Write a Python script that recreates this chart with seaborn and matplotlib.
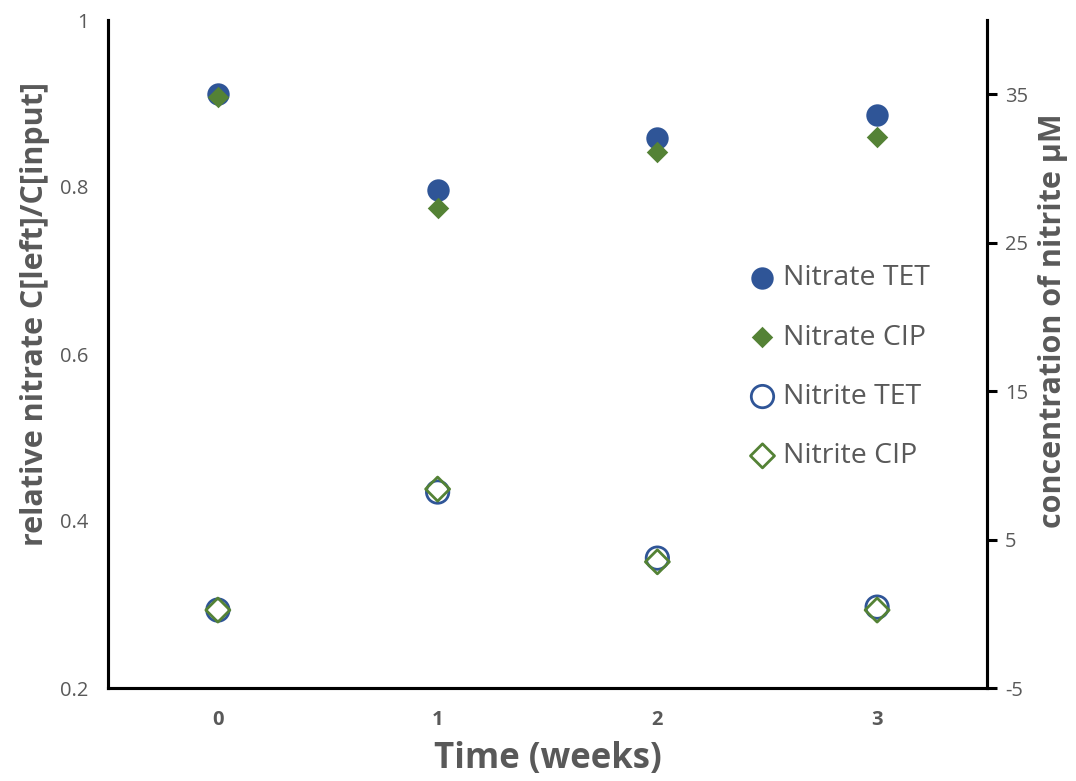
import numpy as np
import pandas as pd
import matplotlib
matplotlib.use("Agg")
import matplotlib.pyplot as plt
import seaborn as sns

sns.set_style("white")
plt.rcParams['font.family'] = ['Open Sans', 'DejaVu Sans']

weeks = [0, 1, 2, 3]
nitrate_tet = [0.911, 0.796, 0.859, 0.886]
nitrate_cip = [0.908, 0.775, 0.842, 0.860]
nitrite_tet = [0.25, 8.2, 3.75, 0.45]
nitrite_cip = [0.25, 8.4, 3.5, 0.25]

blue = '#2F5597'
green = '#548235'
grey = '#595959'

fig = plt.figure(figsize=(10.76, 7.81), dpi=100)
ax = fig.add_axes([108/1076, 1 - 688/781, (987-108)/1076, (688-20)/781])
ax2 = ax.twinx()

sns.scatterplot(x=weeks, y=nitrate_tet, ax=ax, marker='o', s=260, color=blue,
                edgecolor=blue, linewidth=0, label='Nitrate TET', zorder=3)
sns.scatterplot(x=weeks, y=nitrate_cip, ax=ax, marker='D', s=120, color=green,
                edgecolor=green, linewidth=0, label='Nitrate CIP', zorder=4)
sns.scatterplot(x=weeks, y=nitrite_tet, ax=ax2, marker='o', s=260, facecolor='none',
                edgecolor=blue, linewidth=2, label='Nitrite TET', zorder=3)
sns.scatterplot(x=weeks, y=nitrite_cip, ax=ax2, marker='D', s=150, facecolor='none',
                edgecolor=green, linewidth=2, label='Nitrite CIP', zorder=4)

ax.set_xlim(-0.5, 3.5)
ax.set_ylim(0.2, 1.0)
ax.set_yticks([0.2, 0.4, 0.6, 0.8, 1.0])
ax.set_yticklabels(['0.2', '0.4', '0.6', '0.8', '1'])
ax.set_xticks(weeks)
ax2.set_ylim(-5, 40)
ax2.set_yticks([-5, 5, 15, 25, 35])
ax2.set_yticklabels(['-5', '5', '15', '25', '35'])

for a in (ax, ax2):
    a.spines['top'].set_visible(False)
    for s in ('left', 'right', 'bottom'):
        a.spines[s].set_color('black')
        a.spines[s].set_linewidth(2.2)

ax.tick_params(axis='y', length=0, labelsize=14.5, labelcolor=grey, pad=14)
ax.tick_params(axis='x', length=0, labelsize=14.5, labelcolor=grey, pad=16)
for t in ax.get_xticklabels():
    t.set_fontweight('bold')
ax2.tick_params(axis='y', direction='out', length=7, width=2.2, color='black',
                labelsize=14.5, labelcolor=grey, pad=6)

ax.set_xlabel('Time (weeks)', fontsize=25, fontweight='bold', color=grey, labelpad=8)
ax.set_ylabel('relative nitrate C[left]/C[input]', fontsize=22, fontweight='bold',
              color=grey)
ax2.set_ylabel('concentration of nitrite µM', fontsize=22, fontweight='bold',
               color=grey)
ax.yaxis.set_label_coords(-0.066, 0.56)
ax2.yaxis.set_label_coords(1.058, 0.55)

h1, l1 = ax.get_legend_handles_labels()
h2, l2 = ax2.get_legend_handles_labels()
ax.get_legend().remove()
ax2.get_legend().remove()
leg = ax2.legend(h1 + h2, l1 + l2, loc='center left', bbox_to_anchor=(0.696, 0.48),
                 frameon=False, fontsize=20.5, handletextpad=0.12, labelspacing=1.1,
                 handlelength=1.2)
for t in leg.get_texts():
    t.set_color(grey)

fig.savefig('out.png', dpi=100)
